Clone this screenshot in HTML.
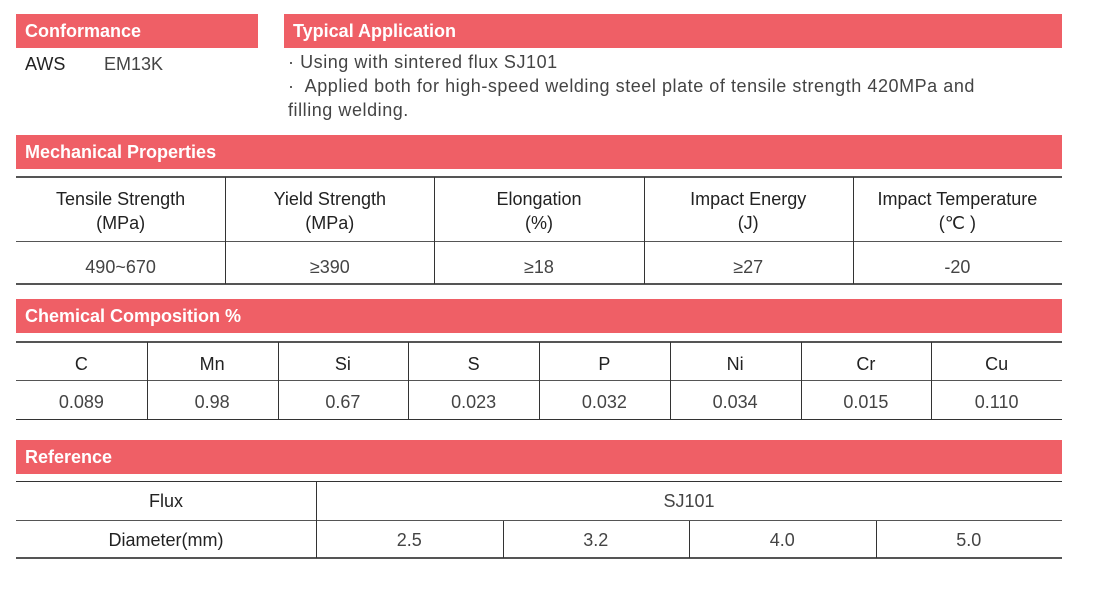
<!DOCTYPE html>
<html><head><meta charset="utf-8"><style>
*{margin:0;padding:0;box-sizing:border-box}
body{width:1101px;height:589px;background:#fff;position:relative;font-family:"Liberation Sans",sans-serif;color:#222;overflow:hidden}
.bar{position:absolute;background:#ef5f66;color:#fff;font-weight:bold;font-size:18px;line-height:34px;padding-left:9px;height:34px}
.t{position:absolute;font-size:18px;color:#333}
.hl{position:absolute;height:2px;background:#555}
.vl{position:absolute;width:1px;background:#333}
.c{position:absolute;text-align:center;font-size:18px;color:#222}
.v{color:#444}
</style></head><body>
<div class="bar" style="left:16px;top:14px;width:242px">Conformance</div>
<div class="t" style="left:25px;top:54px;color:#222">AWS</div>
<div class="t" style="left:104px;top:54px;color:#444">EM13K</div>
<div class="bar" style="left:284px;top:14px;width:778px">Typical Application</div>
<div class="t" style="left:288px;top:50px;line-height:24px;width:770px;color:#444;letter-spacing:0.55px">· Using with sintered flux SJ101<br>·&nbsp; Applied both for high-speed welding steel plate of tensile strength 420MPa and<br>filling welding.</div>

<div class="bar" style="left:16px;top:135px;width:1046px">Mechanical Properties</div>
<div class="hl" style="left:16px;top:176px;width:1046px"></div>
<div class="hl" style="left:16px;top:241px;width:1046px;height:1px"></div>
<div class="hl" style="left:16px;top:283px;width:1046px"></div>
<div id="mech"></div>

<div class="bar" style="left:16px;top:299px;width:1046px">Chemical Composition %</div>
<div class="hl" style="left:16px;top:341px;width:1046px"></div>
<div class="hl" style="left:16px;top:380px;width:1046px;height:1px"></div>
<div class="hl" style="left:16px;top:419px;width:1046px;height:1px;background:#333"></div>
<div id="chem"></div>

<div class="bar" style="left:16px;top:440px;width:1046px">Reference</div>
<div class="hl" style="left:16px;top:481px;width:1046px;height:1px;background:#333"></div>
<div class="hl" style="left:16px;top:520px;width:1046px;height:1px"></div>
<div class="hl" style="left:16px;top:557px;width:1046px"></div>
<div class="vl" style="left:316px;top:482px;height:76px"></div>
<div class="c" style="left:16px;width:300px;top:491px">Flux</div>
<div class="c v" style="left:316px;width:746px;top:491px">SJ101</div>
<div class="c" style="left:16px;width:300px;top:530px">Diameter(mm)</div>
<div id="ref"></div>
<script>
const mechHeads=["Tensile Strength<br>(MPa)","Yield Strength<br>(MPa)","Elongation<br>(%)","Impact Energy<br>(J)","Impact Temperature<br>(℃ )"];
const mechVals=["490~670","≥390","≥18","≥27","-20"];
const chemHeads=["C","Mn","Si","S","P","Ni","Cr","Cu"];
const chemVals=["0.089","0.98","0.67","0.023","0.032","0.034","0.015","0.110"];
const diameters=["2.5","3.2","4.0","5.0"];
function cells(container,heads,vals,x0,x1,ht,vt,top,h,hName,vName){
  const w=(x1-x0)/heads.length;
  heads.forEach((hd,i)=>{
    const x=x0+i*w;
    if(i>0){const l=document.createElement('div');l.className='vl';l.style.cssText=`left:${Math.round(x)}px;top:${top}px;height:${h}px`;container.appendChild(l);}
    if(hd!==null){const a=document.createElement('div');a.className='c';
    
    
    a.style.cssText=`left:${x}px;width:${w}px;top:${ht}px;line-height:24px`;a.innerHTML=hd;container.appendChild(a);}
    const b=document.createElement('div');b.className='c v';
    
    
    b.style.cssText=`left:${x}px;width:${w}px;top:${vt}px`;b.textContent=vals[i];container.appendChild(b);
  });
}
cells(document.getElementById('mech'),mechHeads,mechVals,16,1062,187,257,177,107,'mech-head','mech-value');
cells(document.getElementById('chem'),chemHeads,chemVals,16,1062,352,392,342,78,'chem-head','chem-value');
cells(document.getElementById('ref'),diameters.map(()=>null),diameters,316,1062,0,530,521,37,'diameter-head','diameter-value');
</script>
</body></html>
